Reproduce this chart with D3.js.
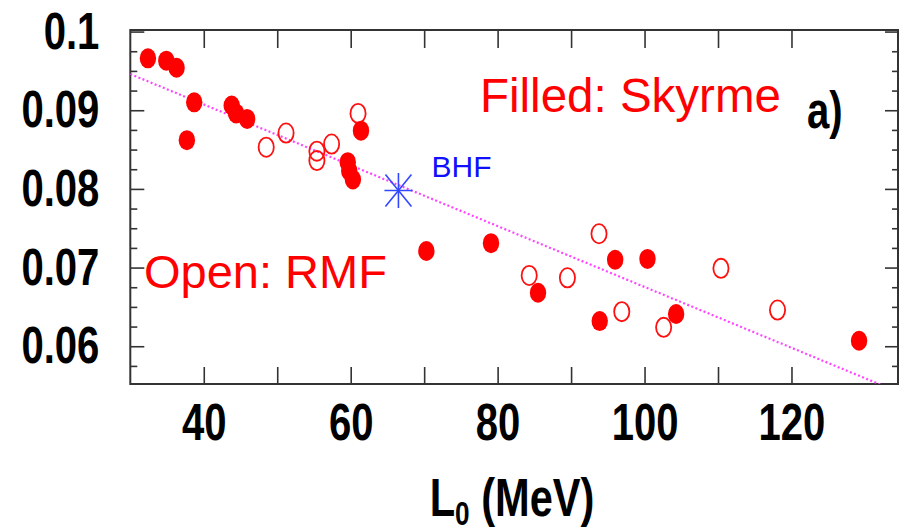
<!DOCTYPE html>
<html>
<head>
<meta charset="utf-8">
<script src="https://cdn.jsdelivr.net/npm/d3@7"></script>
<style>
  html, body { margin: 0; padding: 0; background: #fff; }
  svg { display: block; }
  text { font-family: "Liberation Sans", Arial, Helvetica, sans-serif; }
</style>
</head>
<body>
<svg id="chart" width="907" height="531"></svg>
<script>
// Skyrme (filled) parametrisations: L0 in MeV and the plotted quantity
const skyrmeL0 = [32.4, 34.9, 36.3, 38.7, 37.7, 43.8, 44.4, 45.9, 61.4, 59.6, 59.8, 60.3,
                  70.3, 79.1, 85.5, 96.0, 100.4, 93.9, 104.3, 129.2];
const skyrmeVal = [0.0966, 0.0963, 0.0954, 0.0910, 0.0862, 0.0906, 0.0896, 0.0889, 0.0874, 0.0834, 0.0823, 0.0812,
                   0.0721, 0.0731, 0.0668, 0.0710, 0.0711, 0.0632, 0.0641, 0.0607];

// RMF (open) parametrisations
const rmfL0 = [48.5, 51.2, 61.0, 55.4, 55.4, 57.4, 84.3, 93.8, 89.5, 96.9, 102.6, 110.4, 118.1];
const rmfVal = [0.0853, 0.0871, 0.0896, 0.0848, 0.0836, 0.0857, 0.0690, 0.0743, 0.0687, 0.0644, 0.0624, 0.0699, 0.0646];

// BHF point
const bhfL0 = [66.5];
const bhfVal = [0.0798];

// Linear fit, given by its two end points
const fitL0 = [30, 134.5];
const fitVal = [0.0946, 0.0542];

// Axis ticks
const xTicks = [40, 50, 60, 70, 80, 90, 100, 110, 120];
const xLabels = [40, 60, 80, 100, 120];
const yMajor = [0.06, 0.07, 0.08, 0.09, 0.1];
const yMajorLabels = ["0.06", "0.07", "0.08", "0.09", "0.1"];
const yMinor = [0.0575, 0.0625, 0.065, 0.0675, 0.0725, 0.075, 0.0775, 0.0825, 0.085, 0.0875, 0.0925, 0.095, 0.0975];

const svg = d3.select("#chart");
const plotLeft = 130.3, plotRight = 898, plotTop = 30, plotBottom = 384;

const x = d3.scaleLinear().domain([30, 134.5]).range([plotLeft, plotRight]);
const y = d3.scaleLinear().domain([0.0552, 0.1002]).range([plotBottom, plotTop]);

const SX = 0.77; // horizontal squeeze for the narrow bold axis font

svg.append("defs").append("clipPath").attr("id", "plotClip")
  .append("rect").attr("x", plotLeft).attr("y", plotTop)
  .attr("width", plotRight - plotLeft).attr("height", plotBottom - plotTop);

const axisColor = "#333";

function styleAxis(g) {
  g.select(".domain").remove();
  g.selectAll(".tick line").attr("stroke", axisColor).attr("stroke-width", 1.6);
}

// bottom axis with labels
const xBottom = svg.append("g").attr("transform", `translate(0,${plotBottom})`)
  .call(d3.axisBottom(x).tickValues(xTicks).tickSize(-17).tickPadding(19)
    .tickFormat(d => xLabels.includes(d) ? d : ""));
styleAxis(xBottom);
xBottom.selectAll(".tick text")
  .attr("fill", "#000").attr("font-size", 52).attr("font-weight", "bold")
  .attr("font-family", "'Liberation Sans', Arial, sans-serif")
  .attr("transform", `scale(${SX},1)`);

// top axis, ticks only
const xTop = svg.append("g").attr("transform", `translate(0,${plotTop})`)
  .call(d3.axisTop(x).tickValues(xTicks).tickSize(-18).tickFormat(""));
styleAxis(xTop);

// left axis: major with labels, minor without
const yLeftMajor = svg.append("g").attr("transform", `translate(${plotLeft},0)`)
  .call(d3.axisLeft(y).tickValues(yMajor).tickSize(-14).tickPadding(31)
    .tickFormat((d, i) => yMajorLabels[i]));
styleAxis(yLeftMajor);
yLeftMajor.selectAll(".tick text")
  .attr("fill", "#000").attr("font-size", 52).attr("font-weight", "bold")
  .attr("font-family", "'Liberation Sans', Arial, sans-serif")
  .attr("x", -31 / SX)
  .attr("transform", `scale(${SX},1)`);

const yLeftMinor = svg.append("g").attr("transform", `translate(${plotLeft},0)`)
  .call(d3.axisLeft(y).tickValues(yMinor).tickSize(-7).tickFormat(""));
styleAxis(yLeftMinor);

// right axis, ticks only
const yRightMajor = svg.append("g").attr("transform", `translate(${plotRight},0)`)
  .call(d3.axisRight(y).tickValues(yMajor).tickSize(-13).tickFormat(""));
styleAxis(yRightMajor);
const yRightMinor = svg.append("g").attr("transform", `translate(${plotRight},0)`)
  .call(d3.axisRight(y).tickValues(yMinor).tickSize(-6).tickFormat(""));
styleAxis(yRightMinor);

// frame
svg.append("rect")
  .attr("x", plotLeft).attr("y", plotTop)
  .attr("width", plotRight - plotLeft).attr("height", plotBottom - plotTop)
  .attr("fill", "none").attr("stroke", axisColor).attr("stroke-width", 2);

const plot = svg.append("g").attr("clip-path", "url(#plotClip)");

// dotted fit line
plot.append("path")
  .datum(d3.zip(fitL0, fitVal))
  .attr("d", d3.line().x(d => x(d[0])).y(d => y(d[1])))
  .attr("fill", "none").attr("stroke", "#ff44ff").attr("stroke-width", 2.2)
  .attr("stroke-dasharray", "2,2.4");

// RMF: open markers
plot.selectAll("ellipse.rmf")
  .data(d3.zip(rmfL0, rmfVal))
  .join("ellipse").attr("class", "rmf")
  .attr("cx", d => x(d[0])).attr("cy", d => y(d[1]))
  .attr("rx", 7.6).attr("ry", 9.6)
  .attr("fill", "none").attr("stroke", "#ff1010").attr("stroke-width", 1.8);

// Skyrme: filled markers
plot.selectAll("ellipse.sky")
  .data(d3.zip(skyrmeL0, skyrmeVal))
  .join("ellipse").attr("class", "sky")
  .attr("cx", d => x(d[0])).attr("cy", d => y(d[1]))
  .attr("rx", 8.2).attr("ry", 10)
  .attr("fill", "#ff0000");

// BHF asterisk
const star = plot.selectAll("g.bhf")
  .data(d3.zip(bhfL0, bhfVal))
  .join("g").attr("class", "bhf")
  .attr("transform", d => `translate(${x(d[0])},${y(d[1])})`);
const arms = [[0, -17.5, 0, 17.5], [-14, 0, 14, 0], [-13, -16, 13, 16], [-13, 16, 13, -16]];
star.selectAll("line").data(arms).join("line")
  .attr("x1", a => a[0]).attr("y1", a => a[1]).attr("x2", a => a[2]).attr("y2", a => a[3])
  .attr("stroke", "#3347ff").attr("stroke-width", 1.6);

// annotations
svg.append("text").attr("x", 480).attr("y", 111.5)
  .attr("font-size", 47.5).attr("fill", "#ff0000").text("Filled: Skyrme");
svg.append("text").attr("x", 144).attr("y", 288)
  .attr("font-size", 47).attr("fill", "#ff0000").text("Open: RMF");
svg.append("text").attr("x", 431.5).attr("y", 176.5)
  .attr("font-size", 30).attr("fill", "#1010ff").text("BHF");

svg.append("text")
  .attr("transform", `translate(807,128) scale(${SX},1)`)
  .attr("font-size", 52).attr("font-weight", "bold").attr("fill", "#000").text("a)");

// x-axis title
const title = svg.append("text")
  .attr("transform", `translate(512,516) scale(${SX},1)`)
  .attr("text-anchor", "middle").attr("font-size", 54).attr("font-weight", "bold").attr("fill", "#000");
title.append("tspan").text("L");
title.append("tspan").attr("font-size", 34).attr("dy", 9).text("0");
title.append("tspan").attr("dy", -9).text(" (MeV)");
</script>
</body>
</html>
